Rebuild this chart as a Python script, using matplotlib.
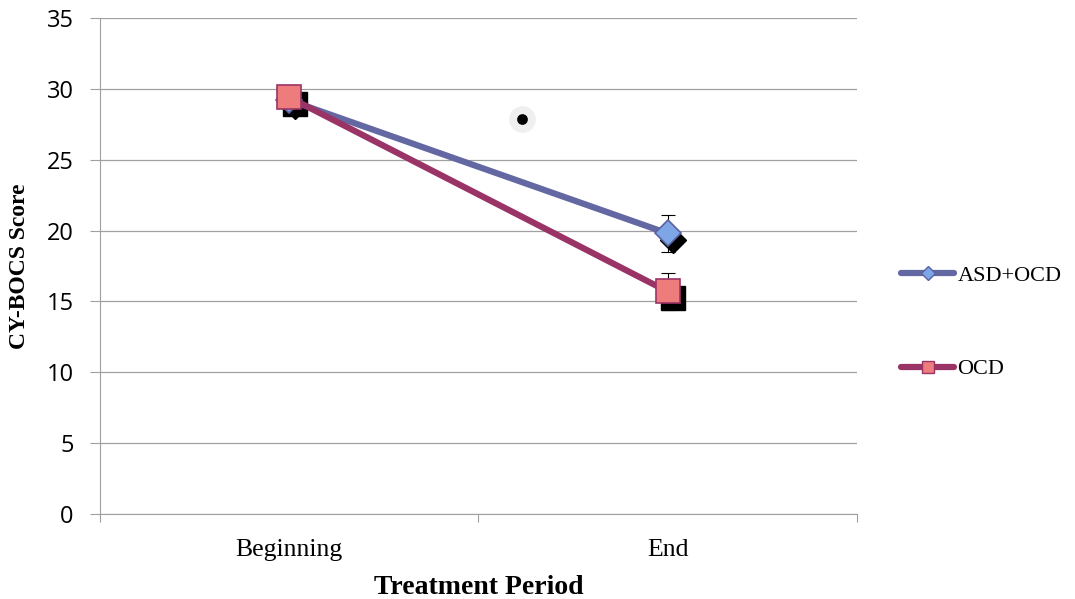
import matplotlib.pyplot as plt
import matplotlib.transforms as mtransforms
import numpy as np

# datos
periodos = ["Beginning", "End"]
asd_ocd = [29.2, 19.8]
asd_ocd_err = [0.6, 1.3]
ocd = [29.4, 15.7]
ocd_err = [0.6, 1.3]
punto_x = [1.115]
punto_y = [27.9]

fig = plt.figure(figsize=(10.75, 5.99), dpi=100)
ax = fig.add_axes([0.093, 0.142, 0.704, 0.828])

x = np.array([0.5, 1.5])
sombra = mtransforms.offset_copy(ax.transData, fig=fig, x=4, y=-4.5, units="points")

# sombras negras de los marcadores
ax.plot(x, asd_ocd, linestyle="none", marker="D", ms=13, color="black", transform=sombra, zorder=3)
ax.plot(x, ocd, linestyle="none", marker="s", ms=17, color="black", transform=sombra, zorder=3)

ax.errorbar(x, asd_ocd, yerr=asd_ocd_err, fmt="none", ecolor="black", elinewidth=0.8,
            capsize=5, capthick=0.8, zorder=2)
ax.errorbar(x, ocd, yerr=ocd_err, fmt="none", ecolor="black", elinewidth=0.8,
            capsize=5, capthick=0.8, zorder=2)

l1, = ax.plot(x, asd_ocd, color="#6468A2", lw=4.5, marker="D", ms=13,
              mfc="#7EA6E6", mec="#5A62A0", mew=1.2, label="ASD+OCD", zorder=4,
              solid_capstyle="round")
l2, = ax.plot(x, ocd, color="#9A3466", lw=4.5, marker="s", ms=17,
              mfc="#EF7C7C", mec="#9A3466", mew=1.2, label="OCD", zorder=5,
              solid_capstyle="round")

ax.scatter(punto_x, punto_y, s=330, color="#EFEFEF", zorder=3)
ax.scatter(punto_x, punto_y, s=45, color="black", zorder=4)

ax.set_xlim(0, 2)
ax.set_ylim(0, 35)
ax.set_yticks(np.arange(0, 36, 5))
ax.set_xticks([0, 1, 2])
ax.set_xticklabels([])
ax.set_xticks(x, minor=True)
ax.set_xticklabels(periodos, minor=True, fontfamily="Liberation Serif", fontsize=18.5)
ax.tick_params(axis="x", which="minor", length=0, pad=18)
ax.tick_params(axis="x", which="major", length=5.5, color="#A0A0A0")
ax.tick_params(axis="y", length=7, color="#A0A0A0", labelsize=17, pad=12)
for t in ax.get_yticklabels():
    t.set_fontfamily("Open Sans")

ax.grid(axis="y", color="#A0A0A0", lw=0.9)
ax.set_axisbelow(True)
for s in ["top", "right"]:
    ax.spines[s].set_visible(False)
ax.spines["left"].set_color("#A0A0A0")
ax.spines["bottom"].set_color("#A0A0A0")

ax.set_xlabel("Treatment Period", fontfamily="Liberation Serif", fontweight="bold",
              fontsize=20, labelpad=10)
ax.set_ylabel("CY-BOCS Score", fontfamily="Liberation Serif", fontweight="bold",
              fontsize=17, labelpad=12)

def mini(linea):
    return plt.Line2D([], [], color=linea.get_color(), lw=4.5, marker=linea.get_marker(),
                      ms=linea.get_markersize() * 0.55, mfc=linea.get_mfc(),
                      mec=linea.get_mec(), solid_capstyle="round")

leg = fig.legend([mini(l1), mini(l2)], ["ASD+OCD", "OCD"], loc="center left",
                 bbox_to_anchor=(0.838, 0.462), frameon=False, handlelength=2.4,
                 handletextpad=0.15, labelspacing=3.3, borderpad=0, borderaxespad=0,
                 prop={"family": "Liberation Serif", "size": 16})

plt.savefig("out.png", dpi=100)
plt.close()
